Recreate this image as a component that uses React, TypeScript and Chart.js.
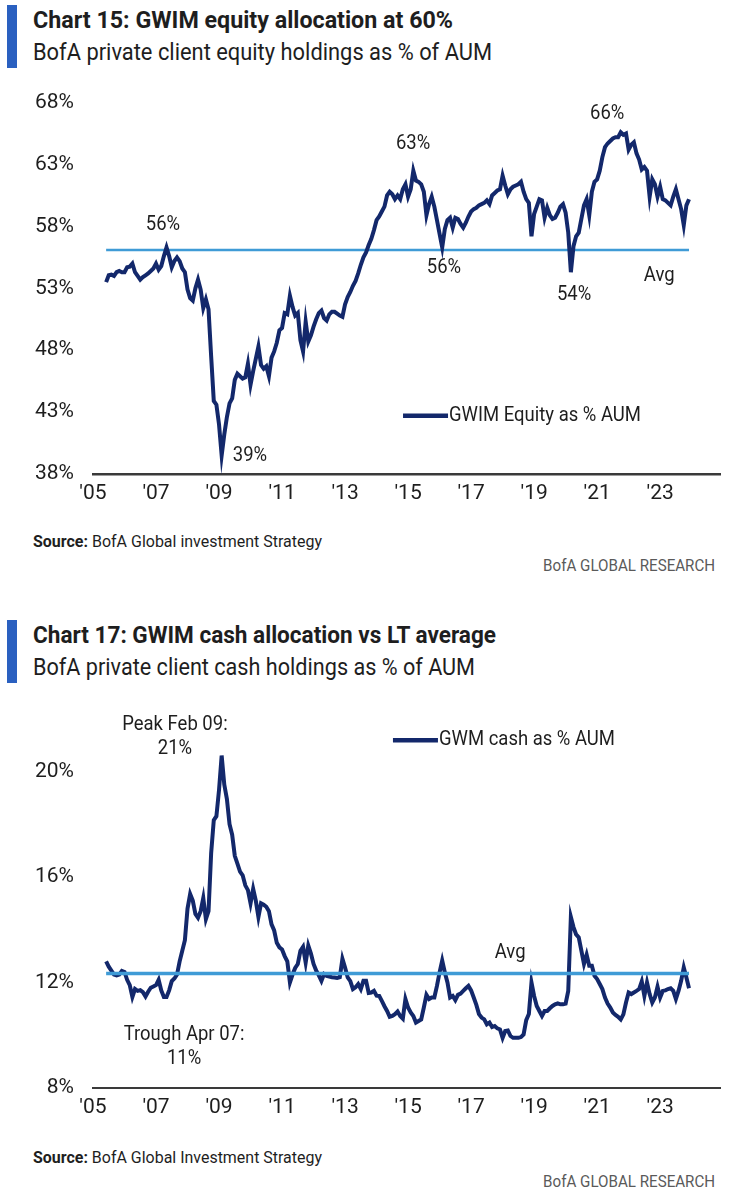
import React, { useEffect, useLayoutEffect, useRef } from "react";
import { Chart, registerables } from "chart.js";

Chart.register(...registerables);

const FONT = "Roboto, 'Noto Sans', sans-serif";
const NAVY = "#13286b";
const AVG_BLUE = "#3f9bd6";
const TEXT = "#1e1e1e";
// the original uses a condensed face; canvas notes are squeezed by this much
const CONDENSE = 0.88;

// monthly series, first value is June 2005 (month 5 counted from Jan 2005)
const firstMonth = 5;

const equityValues = [
	// 2005 Jun-Dec
	53.5, 54.05, 54.1, 54.0, 54.3, 54.4, 54.3,
	// 2006
	54.3, 54.7, 54.75, 55.0, 54.3, 54.0, 53.7, 53.9, 54.05, 54.2, 54.4, 54.6,
	// 2007
	55.0, 54.5, 54.8, 55.6, 56.3, 55.6, 54.7, 55.2, 55.5, 55.2, 54.6, 54.3,
	// 2008
	52.9, 52.2, 52.0, 53.0, 53.7, 52.9, 51.4, 52.1, 51.3, 47.5, 43.9, 43.6,
	// 2009
	42.0, 39.5, 41.2, 42.6, 43.7, 44.1, 45.6, 46.1, 45.9, 45.7, 45.8, 46.9,
	// 2010
	45.2, 46.3, 47.3, 48.3, 46.8, 46.5, 46.7, 45.9, 47.4, 47.9, 48.6, 49.6,
	// 2011
	49.8, 51.0, 50.9, 52.4, 51.5, 50.8, 51.0, 48.8, 47.9, 50.3, 48.7, 49.2,
	// 2012
	49.9, 50.5, 51.0, 51.2, 50.6, 50.4, 50.9, 51.1, 51.1, 50.95, 50.8, 50.7,
	// 2013
	51.7, 52.3, 52.7, 53.2, 53.6, 54.2, 54.9, 55.5, 55.9, 56.5, 57.0, 57.7,
	// 2014
	58.5, 58.8, 59.2, 59.6, 60.5, 60.8, 60.6, 60.2, 60.5, 60.2, 61.0, 61.4,
	// 2015
	60.4, 61.0, 62.5, 61.7, 61.6, 61.4, 60.8, 58.9, 59.8, 60.4, 59.6, 58.5,
	// 2016
	57.4, 56.3, 57.8, 58.5, 58.7, 57.9, 58.7, 58.6, 58.2, 57.9, 58.3, 58.8,
	// 2017
	59.2, 59.4, 59.5, 59.7, 59.8, 59.9, 60.1, 59.8, 60.5, 60.7, 60.9, 61.0,
	// 2018
	62.1, 61.3, 60.6, 61.0, 61.2, 61.3, 61.4, 61.6, 60.8, 60.2, 59.9, 57.2,
	// 2019
	59.0, 59.6, 60.2, 60.1, 58.7, 59.5, 58.9, 58.6, 58.7, 59.1, 59.6, 59.8,
	// 2020
	59.1, 57.5, 54.3, 56.4, 57.2, 57.5, 58.6, 59.7, 60.2, 58.9, 60.8, 61.6,
	// 2021
	61.8, 62.5, 63.6, 64.4, 64.7, 64.9, 65.1, 65.2, 65.2, 65.6, 65.4, 65.5,
	// 2022
	64.2, 64.6, 64.8, 63.9, 63.4, 62.6, 62.8, 62.5, 60.4, 61.8, 61.4, 60.4,
	// 2023
	61.2, 60.2, 60.1, 59.9, 59.7, 60.4, 61.0, 60.2, 59.4, 58.1, 59.7, 60.2,
];

const cashValues = [
	// 2005 Jun-Dec
	12.8, 12.6, 12.45, 12.3, 12.27, 12.3, 12.44,
	// 2006
	12.4, 12.1, 11.9, 11.45, 11.75, 11.68, 11.71, 11.63, 11.47, 11.65, 11.8, 11.85,
	// 2007
	11.9, 12.1, 11.7, 11.45, 11.45, 11.7, 12.05, 12.15, 12.3, 12.8, 13.2, 13.6,
	// 2008
	14.8, 15.35, 15.1, 14.6, 14.45, 14.7, 15.2, 14.4, 14.7, 16.9, 18.15, 18.3,
	// 2009
	19.3, 20.6, 19.5, 18.95, 18.0, 17.6, 16.8, 16.5, 16.2, 16.06, 15.68, 15.5,
	// 2010
	15.0, 15.55, 15.1, 14.48, 15.0, 14.95, 14.87, 14.7, 14.2, 13.97, 13.5, 13.33,
	// 2011
	13.25, 13.0, 12.8, 12.0, 12.3, 12.55, 12.7, 13.2, 13.35, 12.75, 13.4, 13.1,
	// 2012
	12.7, 12.45, 12.27, 12.06, 12.32, 12.25, 12.22, 12.2, 12.19, 12.17, 12.2, 12.9,
	// 2013
	12.57, 12.19, 12.05, 11.75, 11.82, 11.94, 11.75, 12.06, 12.06, 11.6, 11.62, 11.68,
	// 2014
	11.5, 11.49, 11.3, 11.1, 10.92, 10.7, 10.73, 10.8, 10.9, 10.73, 10.63, 11.37,
	// 2015
	11.05, 10.86, 10.73, 10.48, 10.54, 10.6, 11.05, 11.53, 11.37, 11.43, 11.43, 11.87,
	// 2016
	12.38, 12.83, 12.38, 12.0, 11.43, 11.49, 11.33, 11.53, 11.58, 11.68, 11.78, 11.87,
	// 2017
	11.7, 11.43, 11.15, 10.8, 10.67, 10.6, 10.41, 10.48, 10.31, 10.35, 10.26, 10.22,
	// 2018
	9.9, 10.16, 10.18, 9.97, 9.9, 9.9, 9.9, 9.93, 10.03, 10.57, 10.8, 12.0,
	// 2019
	11.49, 11.11, 10.92, 10.73, 10.92, 10.92, 11.02, 11.11, 11.17, 11.21, 11.17, 11.17,
	// 2020
	11.2, 11.68, 14.48, 14.1, 13.82, 13.71, 13.21, 12.7, 13.05, 12.63, 12.63, 12.25,
	// 2021
	12.13, 11.94, 11.75, 11.43, 11.2, 11.05, 10.86, 10.77, 10.7, 10.6, 10.79, 11.24,
	// 2022
	11.62, 11.56, 11.62, 11.68, 11.75, 12.04, 11.49, 12.0, 11.56, 11.24, 11.43, 11.84,
	// 2023
	11.43, 11.68, 11.7, 11.75, 11.78, 11.68, 11.37, 11.68, 12.06, 12.57, 12.19, 11.78,
];

const equityAvg = 56.1;
const cashAvg = 12.34;

const xTickYears = [2005, 2007, 2009, 2011, 2013, 2015, 2017, 2019, 2021, 2023];
const equityTicks = [38, 43, 48, 53, 58, 63, 68];
const cashTicks = [8, 12, 16, 20];

const monthYears = equityValues.map((_, i) => 2005 + (firstMonth + i) / 12);

interface Note {
	text: string;
	x: number;
	y: number;
}

const equityNotes: Note[] = [
	{ text: "56%", x: 2007.22, y: 58.1 },
	{ text: "39%", x: 2009.98, y: 39.5 },
	{ text: "63%", x: 2015.16, y: 64.7 },
	{ text: "56%", x: 2016.14, y: 54.7 },
	{ text: "54%", x: 2020.27, y: 52.5 },
	{ text: "66%", x: 2021.32, y: 67.1 },
	{ text: "Avg", x: 2022.97, y: 54.05 },
];

const cashNotes: Note[] = [
	{ text: "Peak Feb 09:", x: 2007.6, y: 21.78 },
	{ text: "21%", x: 2007.6, y: 20.86 },
	{ text: "Trough Apr 07:", x: 2007.89, y: 10.03 },
	{ text: "11%", x: 2007.89, y: 9.12 },
	{ text: "Avg", x: 2018.24, y: 13.13 },
];

interface Panel {
	values: number[];
	avg: number;
	yTicks: number[];
	yMin: number;
	yMax: number;
	notes: Note[];
	legendLabel: string;
	legendAt: { x: number; y: number };
	height: number;
	avgWidth: number;
	avgOnTop: boolean;
	axisWidth: number;
}

const squeezedText = (ctx: CanvasRenderingContext2D, text: string, x: number, y: number) => {
	ctx.save();
	ctx.translate(x, y);
	ctx.scale(CONDENSE, 1);
	ctx.fillText(text, 0, 0);
	ctx.restore();
};

const notesPlugin = {
	id: "notes",
	afterDatasetsDraw(chart: any) {
		const panel: Panel = chart.options.plugins.notes.panel;
		const { ctx } = chart;
		const xs = chart.scales.x;
		const ys = chart.scales.y;
		ctx.save();
		ctx.font = `21px ${FONT}`;
		ctx.fillStyle = TEXT;
		ctx.textAlign = "center";
		ctx.textBaseline = "middle";
		panel.notes.forEach((n) => {
			squeezedText(ctx, n.text, xs.getPixelForValue(n.x), ys.getPixelForValue(n.y));
		});
		// legend: line sample and label
		const lx = xs.getPixelForValue(panel.legendAt.x);
		const ly = ys.getPixelForValue(panel.legendAt.y);
		ctx.strokeStyle = NAVY;
		ctx.lineWidth = 4.5;
		ctx.beginPath();
		ctx.moveTo(lx, ly);
		ctx.lineTo(lx + 45, ly);
		ctx.stroke();
		ctx.textAlign = "left";
		squeezedText(ctx, panel.legendLabel, lx + 46, ly);
		ctx.restore();
	},
};

const LineChart: React.FC<{ panel: Panel }> = ({ panel }) => {
	const chartRef = useRef<HTMLCanvasElement>(null);
	const chartInstance = useRef<Chart | null>(null);

	useEffect(() => {
		if (!chartRef.current) return;
		if (chartInstance.current) chartInstance.current.destroy();
		const tickFont = { family: FONT, size: 21 };
		chartInstance.current = new Chart(chartRef.current, {
			type: "line",
			data: {
				labels: monthYears,
				datasets: [
					{
						data: panel.values.map((v, i) => ({ x: monthYears[i], y: v })),
						borderColor: NAVY,
						borderWidth: 4,
						pointRadius: 0,
						tension: 0,
						order: panel.avgOnTop ? 2 : 1,
					},
					{
						data: panel.values.map((_, i) => ({ x: monthYears[i], y: panel.avg })),
						borderColor: AVG_BLUE,
						borderWidth: panel.avgWidth,
						pointRadius: 0,
						order: panel.avgOnTop ? 1 : 2,
					},
				],
			},
			options: {
				animation: false,
				responsive: false,
				maintainAspectRatio: false,
				layout: { padding: { top: 0, right: 9, left: 0, bottom: 0 } },
				plugins: {
					legend: { display: false },
					tooltip: { enabled: false },
					notes: { panel },
				} as any,
				scales: {
					x: {
						type: "linear",
						min: 2005,
						max: 2024.9,
						afterFit: (s: any) => {
							s.height = 40;
						},
						afterBuildTicks: (s: any) => {
							s.ticks = xTickYears.map((v) => ({ value: v }));
						},
						grid: { display: false, drawTicks: false },
						border: { display: true, color: "#3a3a3a", width: panel.axisWidth },
						ticks: {
							padding: 7,
							color: TEXT,
							font: tickFont,
							maxRotation: 0,
							callback: (v: any) => "'" + String(v).slice(2),
						},
					},
					y: {
						min: panel.yMin,
						max: panel.yMax,
						afterFit: (s: any) => {
							s.width = 93;
						},
						afterBuildTicks: (s: any) => {
							s.ticks = panel.yTicks.map((v) => ({ value: v }));
						},
						grid: { display: false, drawTicks: false },
						border: { display: false },
						ticks: {
							padding: 19,
							color: TEXT,
							font: tickFont,
							callback: (v: any) => v + "%",
						},
					},
				},
			},
			plugins: [notesPlugin],
		});

		return () => {
			if (chartInstance.current) {
				chartInstance.current.destroy();
				chartInstance.current = null;
			}
		};
	}, [panel]);

	return <canvas ref={chartRef} width={729} height={panel.height} style={{ display: "block" }} />;
};

const equityPanel: Panel = {
	values: equityValues,
	avg: equityAvg,
	yTicks: equityTicks,
	yMin: 38,
	yMax: 68,
	notes: equityNotes,
	legendLabel: "GWIM Equity as % AUM",
	legendAt: { x: 2014.84, y: 42.7 },
	height: 443,
	avgWidth: 2.5,
	avgOnTop: false,
	axisWidth: 2.5,
};

const cashPanel: Panel = {
	values: cashValues,
	avg: cashAvg,
	yTicks: cashTicks,
	yMin: 8,
	yMax: 22,
	notes: cashNotes,
	legendLabel: "GWM cash as % AUM",
	legendAt: { x: 2014.52, y: 21.18 },
	height: 441,
	avgWidth: 3.5,
	avgOnTop: true,
	axisWidth: 2,
};

// text squeezed or stretched horizontally to the width it has in the original
const FitText: React.FC<{
	left?: number;
	right?: number;
	top: number;
	width: number;
	style: React.CSSProperties;
	children: React.ReactNode;
}> = ({ left, right, top, width, style, children }) => {
	const ref = useRef<HTMLDivElement>(null);
	useLayoutEffect(() => {
		const el = ref.current;
		if (!el) return;
		el.style.transform = "none";
		const natural = el.getBoundingClientRect().width;
		if (natural > 0) el.style.transform = `scaleX(${width / natural})`;
	}, [width]);
	return (
		<div
			ref={ref}
			style={{
				position: "absolute",
				left,
				right,
				top,
				whiteSpace: "nowrap",
				fontFamily: FONT,
				color: TEXT,
				transformOrigin: right !== undefined ? "right center" : "left center",
				...style,
			}}
		>
			{children}
		</div>
	);
};

const Heading: React.FC<{
	top: number;
	title: string;
	subtitle: string;
	titleWidth: number;
	subtitleWidth: number;
}> = ({ top, title, subtitle, titleWidth, subtitleWidth }) => (
	<>
		<div style={{ position: "absolute", left: 7, top, width: 10, height: 63, background: "#2a60c0" }} />
		<FitText left={33} top={top + 1} width={titleWidth} style={{ fontSize: 24, fontWeight: 700, lineHeight: "28px" }}>
			{title}
		</FitText>
		<FitText left={33} top={top + 33} width={subtitleWidth} style={{ fontSize: 24, lineHeight: "28px" }}>
			{subtitle}
		</FitText>
	</>
);

const Footer: React.FC<{ top: number; source: string }> = ({ top, source }) => (
	<>
		<FitText left={33} top={top} width={289} style={{ fontSize: 17, lineHeight: "20px" }}>
			<b>Source:</b> {source}
		</FitText>
		<FitText right={14} top={top + 24} width={172} style={{ fontSize: 17, lineHeight: "20px", color: "#5a5a5a" }}>
			BofA GLOBAL RESEARCH
		</FitText>
	</>
);

export default function App() {
	return (
		<div style={{ position: "absolute", left: 0, top: 0, width: 729, height: 1200, background: "#fff", overflow: "hidden" }}>
			<Heading
				top={5}
				title="Chart 15: GWIM equity allocation at 60%"
				subtitle="BofA private client equity holdings as % of AUM"
				titleWidth={420}
				subtitleWidth={459}
			/>
			<div style={{ position: "absolute", left: 0, top: 71 }}>
				<LineChart panel={equityPanel} />
			</div>
			<Footer top={531} source="BofA Global investment Strategy" />

			<Heading
				top={620}
				title="Chart 17: GWIM cash allocation vs LT average"
				subtitle="BofA private client cash holdings as % of AUM"
				titleWidth={463}
				subtitleWidth={442}
			/>
			<div style={{ position: "absolute", left: 0, top: 687 }}>
				<LineChart panel={cashPanel} />
			</div>
			<Footer top={1147} source="BofA Global Investment Strategy" />
		</div>
	);
}
